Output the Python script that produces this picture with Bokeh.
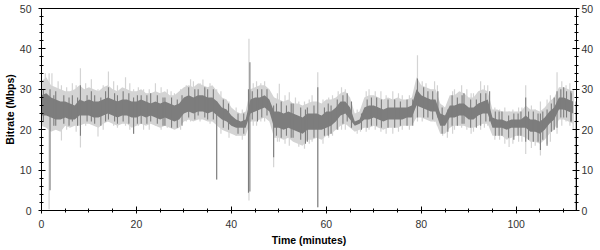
from bokeh.plotting import figure
from bokeh.models import LinearAxis, Range1d, SingleIntervalTicker, ColumnDataSource
from bokeh.embed import file_html
from bokeh.resources import INLINE

# ---- data ----
minutes = list(range(113))
dark_lo = [23.5, 23.5, 23, 22.5, 22.5, 23, 22.5, 22.5, 23.5, 23.5,
           23.5, 23, 23, 23.5, 24, 23.5, 23, 23.5, 23.5, 23,
           23, 23.5, 23, 23.5, 23, 22.5, 23, 22.5, 22, 22.5,
           24, 24.5, 24, 24.5, 24.5, 24, 24.5, 23.5, 22.5, 22,
           21, 20.5, 20.5, 20.5, 24, 24.5, 25, 25.5, 24.5, 20.5,
           20.5, 20, 20.5, 20, 19.5, 19, 20, 20, 20, 20,
           20.5, 21, 22, 23.5, 24, 22.5, 21, 21.5, 22.5, 22.5,
           23, 22.5, 22, 22.5, 22.5, 22.5, 22.5, 23, 23, 26,
           25.5, 25, 24.5, 24.5, 21, 21, 23, 23, 23.5, 23.5,
           22.5, 22.5, 23.5, 24, 24, 20.5, 20.5, 20.5, 20, 20.5,
           20.5, 20.5, 20.5, 19.5, 19.5, 19, 20, 21.5, 22.5, 25,
           25, 24.5, 24]
dark_hi = [28.5, 29, 28, 27.5, 27, 27, 26.5, 26, 27.5, 27,
           27.5, 27, 27, 27.5, 28, 27.5, 27, 27.5, 27.5, 27,
           27, 27.5, 27, 26.5, 27, 26.5, 27, 26.5, 26, 26.5,
           28, 28.5, 28, 28.5, 28.5, 28, 28, 27, 25.5, 25,
           23.5, 22.5, 22, 22.5, 27.5, 28, 28, 28.5, 27.5, 24.5,
           24.5, 24, 24.5, 24, 23.5, 23, 24, 24, 24, 23.5,
           24.5, 24.5, 25.5, 27, 27, 25.5, 22, 22.5, 25.5, 26,
           26, 25.5, 25, 25.5, 25.5, 25.5, 25.5, 25.5, 26, 30,
           28.5, 28, 27.5, 27.5, 24, 23.5, 26, 26, 26.5, 26.5,
           25.5, 25.5, 26.5, 27, 27.5, 23, 22.5, 22.5, 22, 22.5,
           22.5, 22.5, 23.5, 22.5, 22.5, 22, 23, 24.5, 25.5, 28,
           28, 27.5, 27]
light_lo = [21, 20.5, 19.5, 20, 19.5, 21, 20.5, 21, 21, 21.5,
            21.5, 21, 20.5, 21.5, 22, 21.5, 21, 21.5, 21.5, 20.5,
            21, 21.5, 21, 21.5, 21, 20.5, 21, 20.5, 20, 20.5,
            22, 22.5, 22, 22.5, 22.5, 22, 22, 21, 20, 19.5,
            19, 18.5, 18.5, 18.5, 22, 22, 22.5, 23, 22, 18,
            18, 17.5, 18, 17, 16.5, 16, 17.5, 17.5, 18, 17.5,
            18.5, 19, 20, 21, 21.5, 20.5, 19.5, 20, 20.5, 20.5,
            21, 20.5, 20, 20.5, 20.5, 20.5, 21, 21, 21, 23,
            23, 22.5, 22, 22, 19, 19, 20.5, 21, 21, 21,
            20.5, 20.5, 21, 21.5, 21.5, 18.5, 18.5, 18.5, 17.5, 18,
            18.5, 18.5, 18, 17, 17, 16.5, 17.5, 19, 20, 22.5,
            22.5, 22, 21.5]
light_hi = [32, 33, 31, 30.5, 30, 29.5, 29.5, 30, 31, 30,
            30.5, 30, 29.5, 30.5, 31, 30, 29.5, 30.5, 30, 29.5,
            29.5, 30, 29, 29, 29.5, 29, 29.5, 28.5, 28.5, 29.5,
            30.5, 31, 30.5, 31.5, 31, 30.5, 31, 29.5, 28, 27.5,
            25.5, 24.5, 24, 24.5, 30, 30.5, 31, 31, 30, 28,
            27.5, 27, 27.5, 26.5, 26.5, 26, 26.5, 27, 27, 26.5,
            27.5, 27.5, 28, 29, 29.5, 28, 24, 24.5, 28, 28.5,
            28.5, 28, 27.5, 28, 27.5, 28, 27.5, 27.5, 28, 33,
            31, 30.5, 30, 30, 26.5, 25.5, 28.5, 28.5, 29.5, 29,
            28, 28, 29.5, 30, 29.5, 25, 25, 24.5, 24.5, 24.5,
            24.5, 24.5, 26, 25, 25, 24.5, 25.5, 27, 28, 30.5,
            30.5, 30, 29.5]

light_spike_t = [0.8, 1.6, 2.2, 4.2, 6.5, 8.2, 10.5, 11.9, 14.1, 16.0,
                 17.7, 19.4, 21.5, 24.0, 26.5, 28.0, 30.5, 32.0, 34.0, 35.5,
                 36.9, 39.5, 41.0, 43.7, 45.3, 47.0, 48.9, 50.1, 52.2, 53.5,
                 55.4, 57.0, 58.2, 60.5, 62.5, 64.0, 66.5, 69.0, 71.5, 74.0,
                 76.0, 79.2, 81.0, 82.8, 84.5, 87.0, 88.5, 91.0, 92.5, 94.0,
                 96.5, 98.5, 100.5, 102.0, 104.0, 105.1, 106.5, 108.6, 110.5, 112.0,
                 3.5, 5.3, 7.3, 9.3, 13.0, 15.2, 18.6, 20.4, 22.7, 25.2,
                 27.3, 29.3, 31.4, 33.4, 37.8, 42.3, 44.6, 46.2, 49.7, 51.3,
                 54.2, 56.4, 59.3, 61.3, 63.2, 67.2, 68.4, 70.3, 72.6, 75.2,
                 77.5, 80.2, 83.4, 85.5, 86.6, 89.6, 90.5, 93.3, 95.5, 97.6,
                 99.3, 101.2, 103.2, 107.2, 109.6, 111.3]
light_spike_lo = [22, 0.3, 20, 17.3, 21, 15.6, 22, 18.3, 22, 20.5,
                  21, 19, 20, 21, 20.5, 20.3, 22, 22.5, 23, 21.5,
                  7.7, 18, 18.5, 2.5, 21, 22, 10.7, 17, 16, 17,
                  15.3, 17, 0.8, 18, 20, 20, 19, 20, 19.5, 19,
                  20, 22, 23, 22, 18.5, 20, 20.5, 19.5, 20, 21,
                  17.5, 15.7, 17, 14, 16, 13.6, 16.5, 19, 22, 20,
                  21, 20, 19.5, 21, 20, 21, 20, 21, 20, 20,
                  20.5, 20, 22, 22, 19, 17.5, 21, 22, 17, 16.5,
                  15.8, 16.5, 16.5, 18.5, 20, 19.5, 19.5, 20, 19, 19.5,
                  20, 22, 21, 18, 19, 20, 19, 20.5, 17.5, 16.5,
                  16.5, 17, 15.5, 17, 21, 21]
light_spike_hi = [34, 34, 34, 31, 31.5, 35.2, 32.5, 30, 34.4, 31,
                  33, 30, 30, 31.5, 30, 29, 31, 32, 32.4, 31.5,
                  30, 27, 25.5, 42.5, 32, 32, 28, 31.4, 29.3, 28,
                  27, 28.5, 34.2, 28, 29.5, 30, 25, 30, 29.5, 29.5,
                  28.5, 38.4, 31.5, 32, 26, 30, 31, 29, 32, 31,
                  25, 24.5, 25.5, 31, 25, 27, 27.5, 34.2, 31, 30,
                  32, 30.5, 31, 31.5, 31, 32, 31.5, 30.5, 30, 30.5,
                  29.5, 30, 32.5, 31.5, 29.5, 25, 31.5, 31.5, 29, 28.5,
                  27, 27.5, 27.5, 28.5, 30.5, 25, 29.5, 29.5, 28.5, 29,
                  28.5, 32, 31, 26, 29.5, 30, 29, 31, 25.5, 25.5,
                  25, 25.5, 26, 28.5, 32, 31.5]

dark_spike_t = [1.8, 3.0, 6.5, 8.2, 10.5, 12.5, 14.1, 16.0, 19.4, 21.0,
                23.0, 26.0, 31.0, 33.0, 35.0, 36.9, 43.6, 43.9, 45.5, 47.5,
                48.9, 50.5, 53.0, 56.0, 58.2, 61.0, 63.5, 69.5, 73.0, 77.0,
                79.2, 80.5, 83.5, 86.5, 89.0, 92.5, 97.0, 99.5, 101.0, 102.0,
                105.1, 106.5, 108.0, 110.0, 111.5, 112.6,
                0.4, 2.6, 4.7, 5.8, 7.6, 9.6, 11.2, 13.5, 15.4, 17.2,
                18.4, 20.2, 22.2, 24.4, 25.6, 27.4, 28.6, 29.6, 32.3, 34.4,
                36.2, 38.3, 39.4, 41.4, 42.6, 44.4, 46.4, 49.5, 51.6, 52.6,
                54.6, 55.6, 57.4, 59.6, 60.4, 62.3, 64.4, 65.3, 67.4, 68.6,
                70.6, 71.6, 74.4, 75.6, 78.2, 81.4, 82.4, 84.4, 85.6, 87.6,
                88.6, 90.4, 91.6, 93.6, 94.4, 95.6, 96.4, 98.4, 100.4, 102.6,
                103.6, 104.6, 105.6, 107.4, 108.6, 109.4, 110.6, 111.6]
dark_spike_lo = [5, 21, 22, 18.5, 22, 21, 22.5, 21.5, 19, 21.5,
                 22, 21, 23, 23.5, 22.5, 7.7, 4.4, 4.7, 22, 23.5,
                 13.2, 18, 18, 17, 0.8, 19, 21.5, 21, 20.5, 21,
                 23, 23, 23, 21, 21.5, 21, 18.5, 17.5, 18.5, 17,
                 15, 16, 20, 23, 22, 0,
                 22, 21, 21.5, 21, 21, 22, 21.5, 22, 22, 22,
                 21.5, 21.5, 21.5, 21.5, 21, 20.5, 20.5, 21, 22.5, 23,
                 22.5, 20.5, 20, 19, 19, 22.5, 23, 18.5, 18.5, 18,
                 17.5, 16.5, 18, 18.5, 18.5, 20, 22, 20.5, 20, 20.5,
                 21, 20.5, 20.5, 21, 21, 23, 22.5, 19, 19.5, 21,
                 21.5, 20.5, 20.5, 22, 22, 18.5, 18.5, 18, 18.5, 17.5,
                 17, 17, 17.5, 19.5, 20.5, 23, 23, 22]
dark_spike_hi = [30, 29.5, 28.5, 31, 29.5, 28, 30.5, 28.5, 28, 28.5,
                 29, 28, 30.5, 30, 30, 27, 30, 36.7, 30, 30,
                 26, 27, 26.5, 25.5, 30.5, 26, 28.5, 28, 27.5, 27.5,
                 32.7, 30.5, 29.5, 28.5, 29, 29, 24.5, 24, 24.5, 28,
                 24, 25, 28, 30.5, 29.5, 27,
                 30, 28.5, 28.5, 28, 28, 28.5, 28.5, 29.5, 29, 29.5,
                 29, 28.5, 28.5, 28.5, 28, 28, 27.5, 28.5, 30, 30.5,
                 30, 27.5, 26.5, 24, 24, 29.5, 30, 26.5, 26, 26.5,
                 25.5, 25, 26, 25.5, 26.5, 27.5, 29, 27, 24, 27.5,
                 28, 27.5, 27.5, 27, 27.5, 29.5, 29.5, 25.5, 25, 28,
                 28.5, 27.5, 27.5, 29, 29.5, 24.5, 24.5, 23.5, 24, 24.5,
                 24.5, 24, 24.5, 26.5, 29.5, 30, 29.5, 29]

x_ticks_interval = 20
y_ticks_interval = 10

DARK = "#7d7d7d"
LIGHT = "#d4d4d4"
TICK_FONT = "'Liberation Sans', Arial, sans-serif"
TITLE_FONT = "'Liberation Sans', Arial, sans-serif"

p = figure(width=600, height=250, output_backend="svg", toolbar_location=None,
           x_range=Range1d(0, 112.7), y_range=Range1d(0, 50),
           min_border_left=39, min_border_right=24, min_border_top=8,
           min_border_bottom=40, x_axis_location=None, y_axis_location=None)
p.grid.visible = False
p.outline_line_color = "black"
p.background_fill_color = "white"
p.border_fill_color = "white"

src = ColumnDataSource(dict(t=minutes, dlo=dark_lo, dhi=dark_hi, llo=light_lo, lhi=light_hi))
ls = ColumnDataSource(dict(t=light_spike_t, lo=light_spike_lo, hi=light_spike_hi))
ds = ColumnDataSource(dict(t=dark_spike_t, lo=dark_spike_lo, hi=dark_spike_hi))

p.varea(x="t", y1="llo", y2="lhi", source=src, fill_color=LIGHT)
p.segment(x0="t", y0="lo", x1="t", y1="hi", source=ls, line_color=LIGHT, line_width=1.2)
p.varea(x="t", y1="dlo", y2="dhi", source=src, fill_color=DARK)
p.segment(x0="t", y0="lo", x1="t", y1="hi", source=ds, line_color=DARK, line_width=1.1)


def style(ax):
    ax.axis_line_color = "black"
    ax.major_tick_line_color = "black"
    ax.minor_tick_line_color = "black"
    ax.major_tick_in = 4
    ax.major_tick_out = 3
    ax.minor_tick_in = 2
    ax.minor_tick_out = 2
    ax.major_label_text_font = TICK_FONT
    ax.major_label_text_font_size = "10.5px"
    ax.major_label_text_color = "#333333"
    ax.axis_label_text_font = TITLE_FONT
    ax.axis_label_text_font_style = "bold"
    ax.axis_label_text_font_size = "10.5px"
    ax.axis_label_text_color = "black"


xb = LinearAxis(ticker=SingleIntervalTicker(interval=x_ticks_interval, num_minor_ticks=4),
                axis_label="Time (minutes)")
style(xb)
xb.major_label_standoff = 6
xb.axis_label_standoff = 3
p.add_layout(xb, "below")

yl = LinearAxis(ticker=SingleIntervalTicker(interval=y_ticks_interval, num_minor_ticks=5),
                axis_label="Bitrate (Mbps)")
style(yl)
yl.major_label_standoff = 7
yl.axis_label_standoff = 1
p.add_layout(yl, "left")

yr = LinearAxis(ticker=SingleIntervalTicker(interval=y_ticks_interval, num_minor_ticks=5))
style(yr)
yr.major_label_standoff = 2
p.add_layout(yr, "right")

open("out.html", "w").write(file_html(p, INLINE))
